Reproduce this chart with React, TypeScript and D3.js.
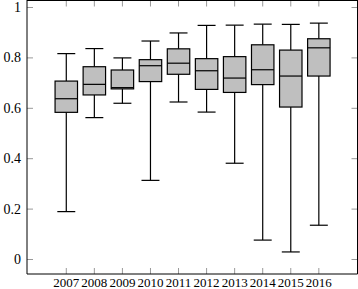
import React from "react";
import * as d3 from "d3";

const years = [2007, 2008, 2009, 2010, 2011, 2012, 2013, 2014, 2015, 2016];
const lowerWhisker = [0.19, 0.563, 0.62, 0.314, 0.625, 0.585, 0.382, 0.077, 0.03, 0.136];
const q1 = [0.584, 0.653, 0.677, 0.706, 0.735, 0.675, 0.663, 0.694, 0.605, 0.728];
const median = [0.638, 0.695, 0.682, 0.769, 0.779, 0.749, 0.72, 0.753, 0.728, 0.84];
const q3 = [0.708, 0.765, 0.752, 0.793, 0.836, 0.797, 0.805, 0.852, 0.831, 0.876];
const upperWhisker = [0.817, 0.837, 0.8, 0.867, 0.899, 0.929, 0.93, 0.934, 0.933, 0.938];
const yTicks = [0, 0.2, 0.4, 0.6, 0.8, 1];

const W = 358;
const H = 289;
const left = 27;
const right = 357.5;
const top = 0.5;
const bottom = 274;

export default function App() {
  const x = d3.scaleLinear().domain([2005.6, 2017.36]).range([left, 357]);
  const y = d3.scaleLinear().domain([0, 1]).range([259.5, 7.5]);
  const unit = x(1) - x(0);
  const boxW = unit * 0.8;
  const capW = unit * 0.64;
  const font = "Liberation Serif";
  const tickLen = 6;
  const fmt = (v: number) => (v === 0 ? "0" : v === 1 ? "1" : d3.format(".1f")(v));

  return (
    <svg
      width={W}
      height={H}
      style={{ position: "fixed", left: 0, top: 0, background: "#fff" }}
    >
      {yTicks.map((t) => (
        <g key={"yt" + t}>
          <line x1={left} x2={left + tickLen} y1={y(t)} y2={y(t)} stroke="#999" strokeWidth={1} />
          <line x1={right - tickLen} x2={right} y1={y(t)} y2={y(t)} stroke="#999" strokeWidth={1} />
          <text
            x={21}
            y={y(t) + 4.5}
            textAnchor="end"
            style={{ fontFamily: font, fontSize: "14px" }}
            fill="#000"
          >
            {fmt(t)}
          </text>
        </g>
      ))}
      {years.map((yr) => (
        <g key={"xt" + yr}>
          <line x1={x(yr)} x2={x(yr)} y1={bottom} y2={bottom - tickLen} stroke="#999" strokeWidth={1} />
          <line x1={x(yr)} x2={x(yr)} y1={top} y2={top + tickLen} stroke="#999" strokeWidth={1} />
          <text
            x={x(yr)}
            y={287}
            textAnchor="middle"
            style={{ fontFamily: font, fontSize: "13px" }}
            fill="#000"
          >
            {yr}
          </text>
        </g>
      ))}
      {years.map((yr, i) => {
        const cx = x(yr);
        return (
          <g key={"b" + yr} stroke="#000" strokeWidth={1.2}>
            <line x1={cx} x2={cx} y1={y(q3[i])} y2={y(upperWhisker[i])} />
            <line x1={cx} x2={cx} y1={y(q1[i])} y2={y(lowerWhisker[i])} />
            <line x1={cx - capW / 2} x2={cx + capW / 2} y1={y(upperWhisker[i])} y2={y(upperWhisker[i])} />
            <line x1={cx - capW / 2} x2={cx + capW / 2} y1={y(lowerWhisker[i])} y2={y(lowerWhisker[i])} />
            <rect
              x={cx - boxW / 2}
              y={y(q3[i])}
              width={boxW}
              height={y(q1[i]) - y(q3[i])}
              fill="#bfbfbf"
            />
            <line x1={cx - boxW / 2} x2={cx + boxW / 2} y1={y(median[i])} y2={y(median[i])} />
          </g>
        );
      })}
      <g stroke="#000" strokeWidth={1}>
        <line x1={left} x2={right} y1={top} y2={top} />
        <line x1={left} x2={right} y1={bottom} y2={bottom} />
        <line x1={left} x2={left} y1={0} y2={bottom} />
        <line x1={right} x2={right} y1={0} y2={bottom} />
      </g>
    </svg>
  );
}
